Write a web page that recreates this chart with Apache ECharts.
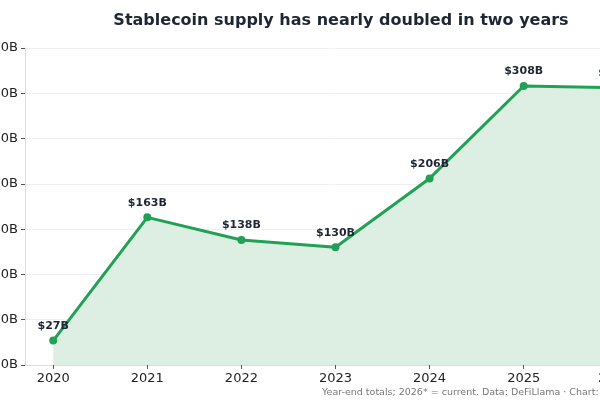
<!DOCTYPE html>
<html><head><meta charset="utf-8">
<script src="https://cdn.jsdelivr.net/npm/echarts@6/dist/echarts.min.js"></script>
<style>html,body{margin:0;padding:0;overflow:hidden;background:#fff}#c{position:absolute;left:0;top:0;width:680px;height:400px}</style>
</head><body><div id="c"></div>
<script>
const years = [2020, 2021, 2022, 2023, 2024, 2025, 2026];
const yearLabels = ['2020', '2021', '2022', '2023', '2024', '2025', '2026*'];
const supply = [27, 163, 138, 130, 206, 308, 306];
const yTicks = [0, 50, 100, 150, 200, 250, 300, 350];

const chart = echarts.init(document.getElementById('c'), null, {renderer: 'canvas'});
const font = 'DejaVu Sans';
chart.setOption({
  animation: false,
  textStyle: {fontFamily: font},
  title: {
    text: 'Stablecoin supply has nearly doubled in two years',
    left: 336, top: 8, textAlign: 'center',
    textStyle: {fontFamily: font, fontSize: 16, fontWeight: 'bold', color: '#1f2633'}
  },
  grid: {left: 25, top: 48, width: 621, bottom: 35, containLabel: false, outerBoundsMode: 'none'},
  xAxis: {
    type: 'value', min: 2019.7, max: 2026.3,
    axisLine: {show: true, lineStyle: {color: '#d9dde3', width: 1}},
    axisTick: {show: true, customValues: years, length: 4, lineStyle: {color: '#555'}},
    axisLabel: {
      customValues: years, fontSize: 13, color: '#222', margin: 7, fontFamily: font,
      formatter: v => yearLabels[years.indexOf(Math.round(v))]
    },
    splitLine: {show: false}
  },
  yAxis: {
    type: 'value', min: 0, max: 350, interval: 50,
    axisLine: {show: true, lineStyle: {color: '#d9dde3', width: 1}},
    axisTick: {show: true, length: 4, lineStyle: {color: '#555'}},
    axisLabel: {fontSize: 13, color: '#222', margin: 7, fontFamily: font,
      formatter: v => yTicks.includes(v) ? '$' + v + 'B' : ''},
    splitLine: {show: true, lineStyle: {color: '#eef0f3', width: 1}}
  },
  series: [{
    type: 'line',
    data: years.map((y, i) => [y, supply[i]]),
    symbol: 'circle', symbolSize: 8,
    lineStyle: {color: '#22a055', width: 3},
    itemStyle: {color: '#22a055'},
    areaStyle: {color: '#dcefe2', opacity: 1},
    label: {show: true, position: 'top', distance: 5, fontSize: 11, fontWeight: 'bold',
      color: '#1f2633', fontFamily: font, formatter: p => '$' + p.value[1] + 'B'}
  }],
  graphic: [{
    type: 'text', left: 322, top: 388,
    style: {text: 'Year-end totals; 2026* = current. Data: DeFiLlama · Chart: Benzinga',
      fontSize: 9.5, fill: '#777', fontFamily: font}
  }]
});
</script></body></html>
